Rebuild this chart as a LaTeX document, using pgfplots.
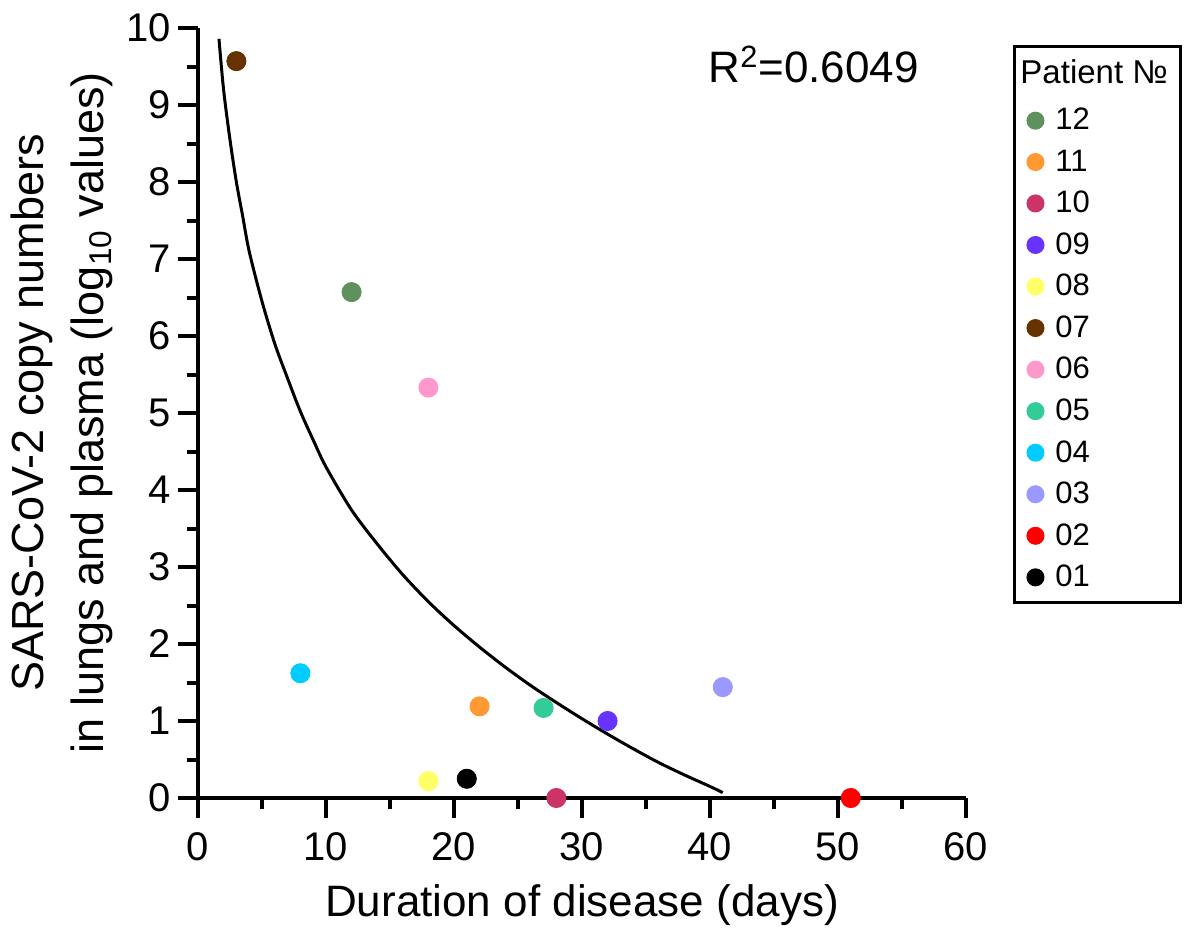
\documentclass[border=0pt]{standalone}
\usepackage{fontspec}
\setmainfont{Liberation Sans}
\usepackage{pgfplots}
\pgfplotsset{compat=1.18}
\definecolor{c12}{RGB}{95,145,95}
\definecolor{c11}{RGB}{255,153,51}
\definecolor{c10}{RGB}{204,51,102}
\definecolor{c09}{RGB}{102,51,255}
\definecolor{c08}{RGB}{255,255,102}
\definecolor{c07}{RGB}{102,51,0}
\definecolor{c06}{RGB}{255,153,204}
\definecolor{c05}{RGB}{51,204,153}
\definecolor{c04}{RGB}{0,204,255}
\definecolor{c03}{RGB}{153,153,255}
\definecolor{c02}{RGB}{255,0,0}
\definecolor{c01}{RGB}{0,0,0}
\begin{document}
\begin{tikzpicture}
\begin{axis}[
  scale only axis, width=384pt, height=385pt,
  xmin=0, xmax=60, ymin=0, ymax=10,
  axis x line=bottom, axis y line=left,
  axis line style={-, line width=2pt},
  xtick={0,10,...,60}, ytick={0,1,...,10},
  minor xtick={5,15,...,55}, minor ytick={0.5,1.5,...,9.5},
  tick align=outside,
  major tick length=10pt, minor tick length=5.5pt,
  tick style={black, line width=2pt},
  major tick style={black, line width=2pt},
  minor tick style={black, line width=2pt},
  /pgf/number format/assume math mode=true,
  ticklabel style={font=\fontsize{20}{24}\selectfont},
  xticklabel style={yshift=-3.5pt},
  xlabel={Duration of disease (days)},
  xlabel style={font=\fontsize{22}{26}\selectfont, yshift=-5pt},
  ylabel={SARS-CoV-2 copy numbers\\in lungs and plasma (log\textsubscript{10} values)},
  ylabel style={align=center, font=\fontsize{22.5}{30}\selectfont},
  clip=false,
  legend style={at={(axis description cs:1.0612,0.9779)}, anchor=north west,
    draw=black, line width=1.5pt, font=\fontsize{15.5}{18}\selectfont,
    inner xsep=4.5pt, inner ysep=4.5pt, row sep=4.45pt, column sep=4.25pt},
  legend cell align=left,
  legend image code/.code={\path[draw=none, fill=none] (0pt,-1pt) rectangle (9.75pt,1pt);
    \draw[#1, mark size=3.75pt] plot coordinates {(6pt,0pt)};},
]
\path[draw=none, fill=none] (rel axis cs:-0.2578,-0.1675) rectangle (rel axis cs:1.2852,1.0364);
\addplot[black, line width=1.5pt, smooth, forget plot] coordinates {
(1.64,9.86) (2,9.2) (2.5,8.55) (3,8.0) (3.5,7.55) (4,7.1) (5,6.45) (6,5.9)
(7,5.45) (8,5.02) (9,4.65) (10,4.3) (12,3.74) (14,3.3) (16,2.9) (18,2.55)
(20,2.24) (22,1.96) (24,1.7) (26,1.46) (28,1.24) (30,1.03) (32,0.83)
(34,0.64) (36,0.46) (38,0.3) (40,0.15) (41,0.07)};
\addlegendimage{empty legend}
\addlegendentry{\hspace*{-17.5pt}\raisebox{2.5pt}{\fontsize{16.5}{18}\selectfont Patient №}}
\addplot[only marks, mark=*, mark size=4.8pt, color=c12] coordinates {(12,6.57)};
\addlegendentry{12}
\addplot[only marks, mark=*, mark size=4.8pt, color=c11] coordinates {(22,1.19)};
\addlegendentry{11}
\addplot[only marks, mark=*, mark size=4.8pt, color=c10] coordinates {(28,0)};
\addlegendentry{10}
\addplot[only marks, mark=*, mark size=4.8pt, color=c09] coordinates {(32,1.0)};
\addlegendentry{09}
\addplot[only marks, mark=*, mark size=4.8pt, color=c08] coordinates {(18,0.22)};
\addlegendentry{08}
\addplot[only marks, mark=*, mark size=4.8pt, color=c07] coordinates {(3,9.57)};
\addlegendentry{07}
\addplot[only marks, mark=*, mark size=4.8pt, color=c06] coordinates {(18,5.33)};
\addlegendentry{06}
\addplot[only marks, mark=*, mark size=4.8pt, color=c05] coordinates {(27,1.17)};
\addlegendentry{05}
\addplot[only marks, mark=*, mark size=4.8pt, color=c04] coordinates {(8,1.62)};
\addlegendentry{04}
\addplot[only marks, mark=*, mark size=4.8pt, color=c03] coordinates {(41,1.44)};
\addlegendentry{03}
\addplot[only marks, mark=*, mark size=4.8pt, color=c02] coordinates {(51,0)};
\addlegendentry{02}
\addplot[only marks, mark=*, mark size=4.8pt, color=c01] coordinates {(21,0.25)};
\addlegendentry{01}
\node[font=\fontsize{22}{26}\selectfont, anchor=base] at (axis cs:48.1,9.29) {R\textsuperscript{2}=0.6049};
\end{axis}
\end{tikzpicture}
\end{document}
